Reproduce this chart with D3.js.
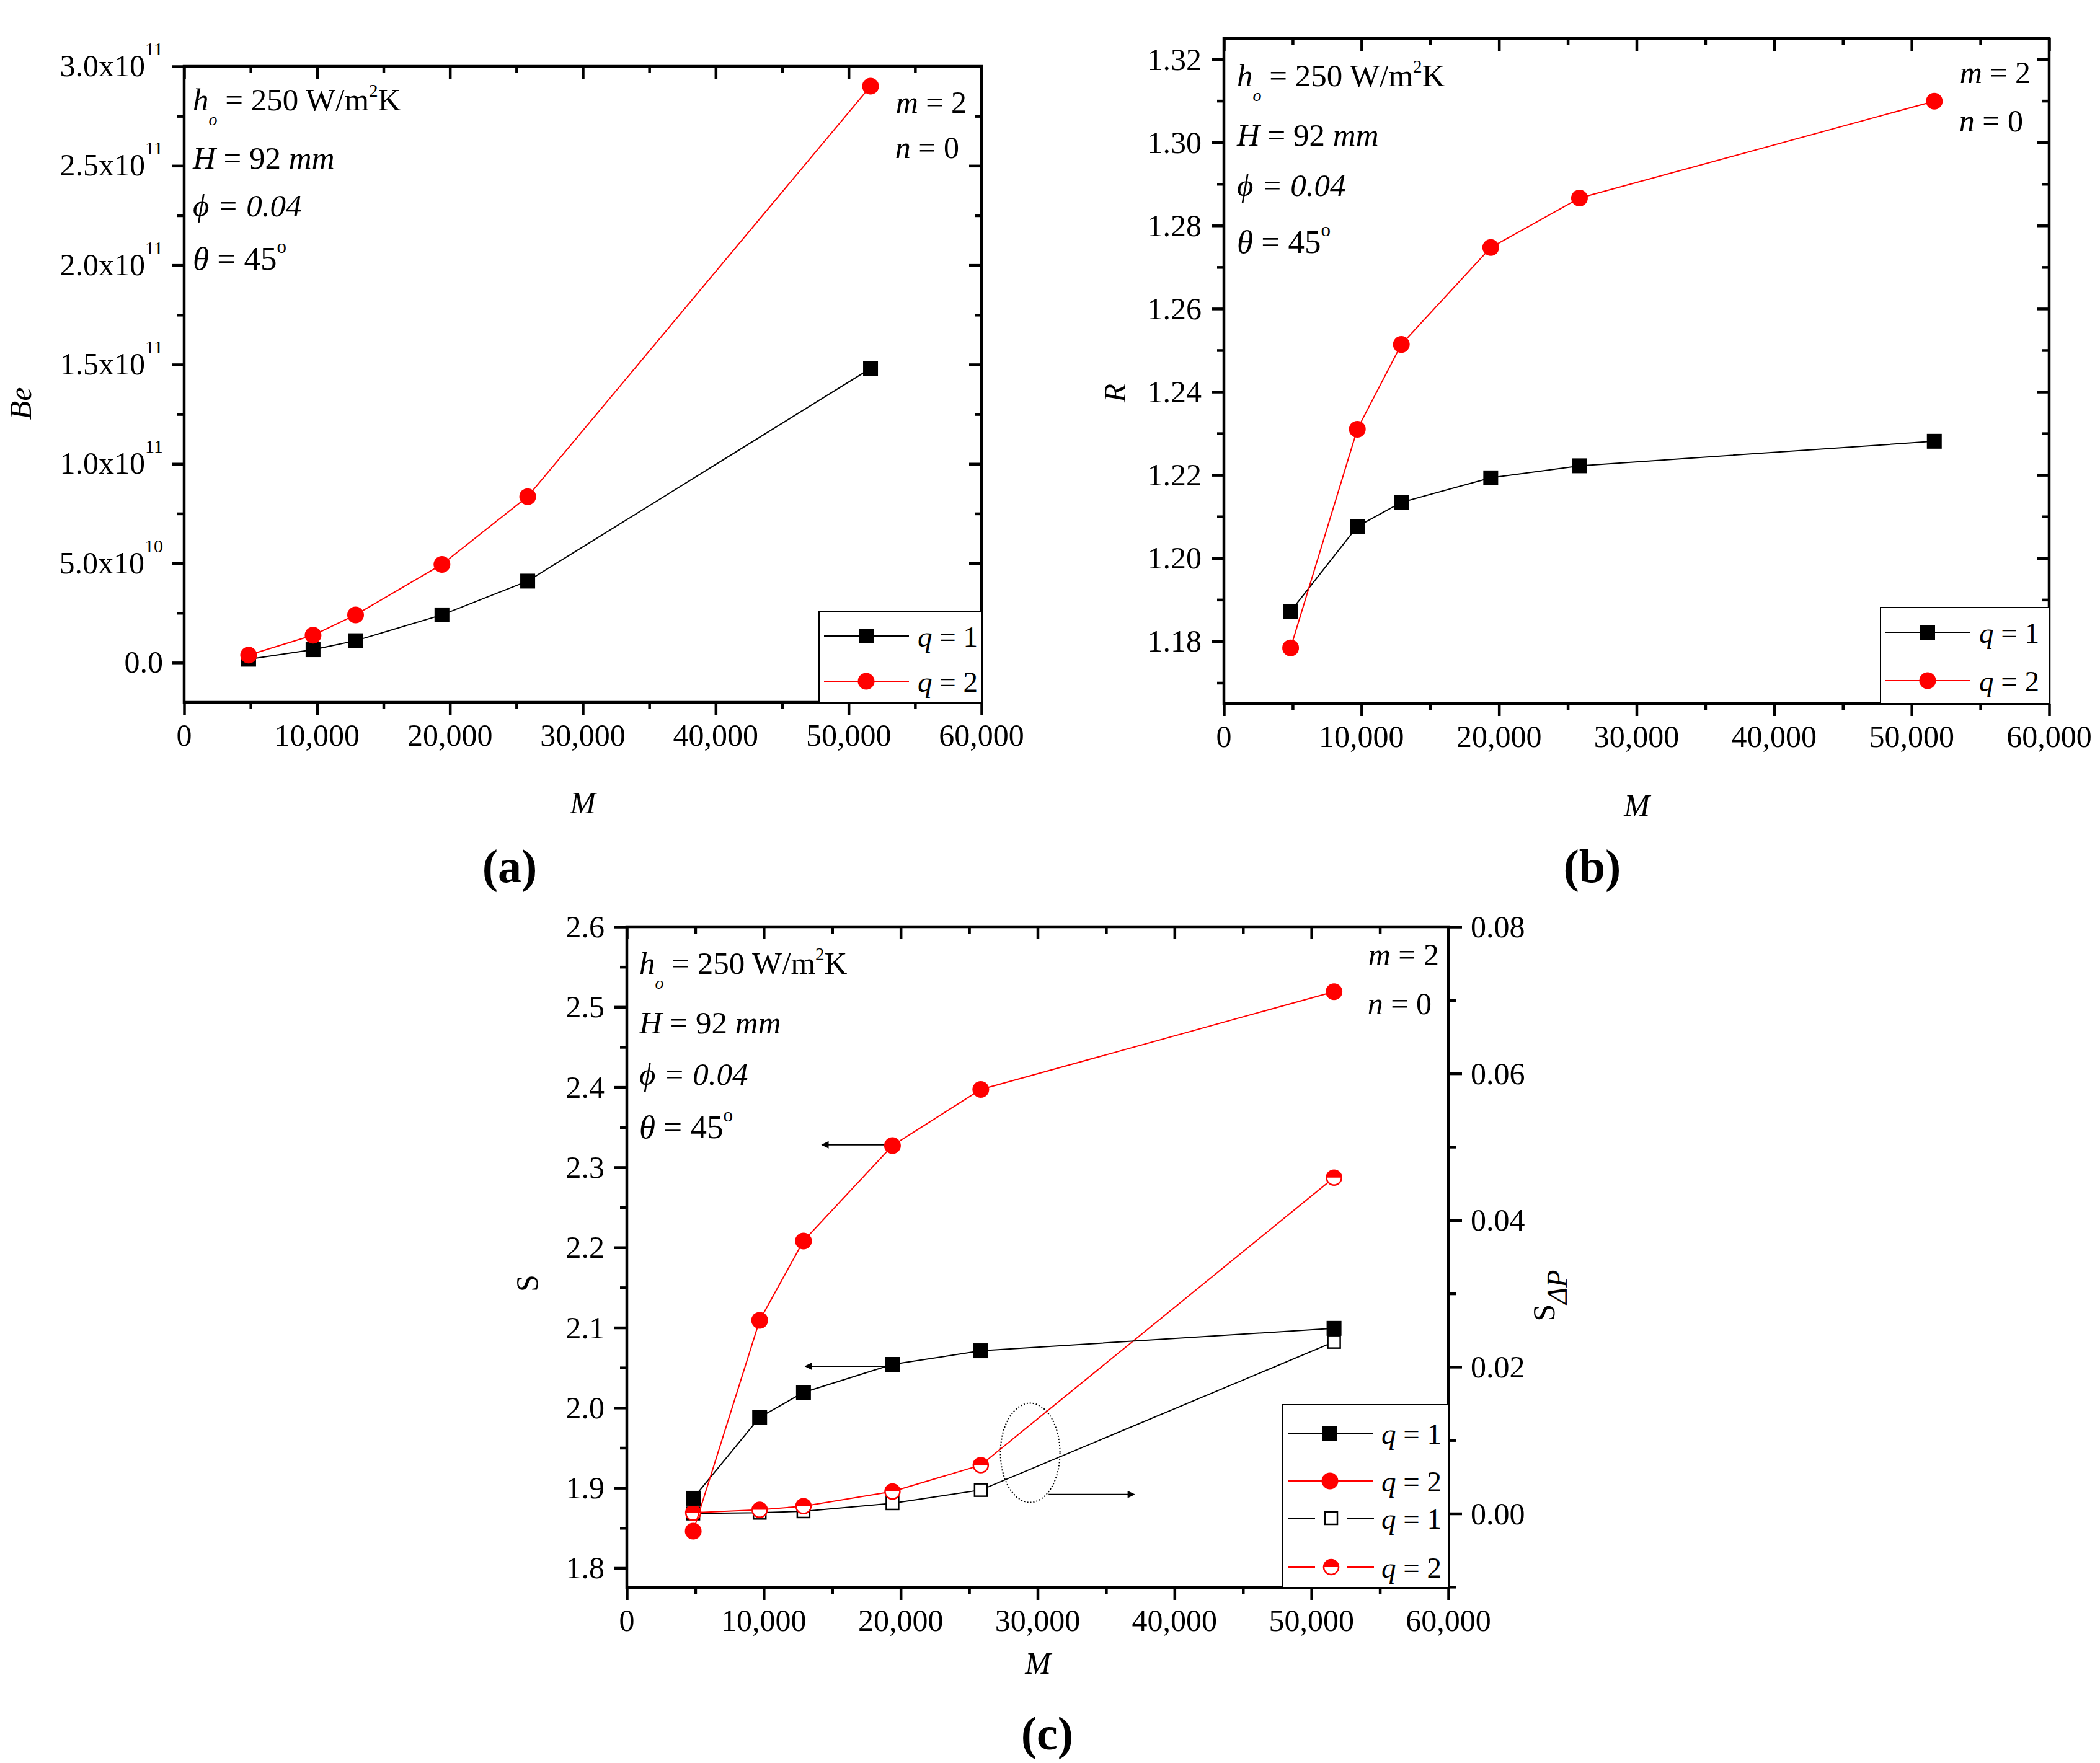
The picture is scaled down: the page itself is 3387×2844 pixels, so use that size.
<!DOCTYPE html>
<html>
<head>
<meta charset="utf-8">
<script src="https://cdn.jsdelivr.net/npm/d3@7"></script>
<style>
  body { margin: 0; background: #fff; }
  text { font-family: "Liberation Serif", "Times New Roman", serif; fill: #000; }
</style>
</head>
<body>
<script>
/* global d3 */

// ---- data ----
const M = [4850, 9700, 12900, 19400, 25850, 51650]

const beQ1 = [1.7e9, 6.5e9, 1.1e10, 2.4e10, 4.1e10, 1.48e11]
const beQ2 = [3.8e9, 1.375e10, 2.4e10, 4.94e10, 8.35e10, 2.9e11]

const rQ1 = [1.1872, 1.2076, 1.2134, 1.2193, 1.2222, 1.2281]
const rQ2 = [1.1784, 1.2310, 1.2514, 1.2747, 1.2866, 1.3099]

const sQ1 = [1.887, 1.988, 2.019, 2.054, 2.071, 2.099]
const sQ2 = [1.846, 2.109, 2.208, 2.327, 2.397, 2.519]
const sdpQ1 = [0.0000, 0.0001, 0.0003, 0.0014, 0.0032, 0.0234]
const sdpQ2 = [0.0001, 0.0005, 0.0010, 0.0030, 0.0066, 0.0458]

const xTicks = [0, 10000, 20000, 30000, 40000, 50000, 60000]
const xMinor = [5000, 15000, 25000, 35000, 45000, 55000]
const xLabels = ['0', '10,000', '20,000', '30,000', '40,000', '50,000', '60,000']

const beTicks = [0, 5e10, 1e11, 1.5e11, 2e11, 2.5e11, 3e11]
const beMinor = [2.5e10, 7.5e10, 1.25e11, 1.75e11, 2.25e11, 2.75e11]
const beLabels = [['0.0', ''], ['5.0x10', '10'], ['1.0x10', '11'], ['1.5x10', '11'],
  ['2.0x10', '11'], ['2.5x10', '11'], ['3.0x10', '11']]

const rTicks = [1.18, 1.20, 1.22, 1.24, 1.26, 1.28, 1.30, 1.32]
const rMinor = [1.17, 1.19, 1.21, 1.23, 1.25, 1.27, 1.29, 1.31]
const rLabels = ['1.18', '1.20', '1.22', '1.24', '1.26', '1.28', '1.30', '1.32']

const sTicks = [1.8, 1.9, 2.0, 2.1, 2.2, 2.3, 2.4, 2.5, 2.6]
const sMinor = [1.85, 1.95, 2.05, 2.15, 2.25, 2.35, 2.45, 2.55]
const sLabels = ['1.8', '1.9', '2.0', '2.1', '2.2', '2.3', '2.4', '2.5', '2.6']

const dpTicks = [0, 0.02, 0.04, 0.06, 0.08]
const dpMinor = [-0.01, 0.01, 0.03, 0.05, 0.07]
const dpLabels = ['0.00', '0.02', '0.04', '0.06', '0.08']

// arrows in panel (c): [fromM, toM, value, axis]
const arrows = [[19280, 14250, 2.328, 'left'], [19280, 13030, 2.0517, 'left'], [30800, 37060, 0.0026, 'right']]
const ellipseAt = [29460, 0.00828]

// ---- page ----
const svg = d3.select('body').append('svg')
  .attr('width', 3387)
  .attr('height', 2844)

const defs = svg.append('defs')
defs.append('marker')
  .attr('id', 'head')
  .attr('viewBox', '0 0 10 10')
  .attr('refX', 9).attr('refY', 5)
  .attr('markerWidth', 26).attr('markerHeight', 12)
  .attr('markerUnits', 'userSpaceOnUse')
  .attr('orient', 'auto')
  .append('path').attr('d', 'M0,0 L10,5 L0,10 Z').attr('fill', '#000')

// text built from pieces: {t, i: italic, fs, dy}
function rich (g, x, y, parts, size, anchor) {
  const t = g.append('text')
    .attr('x', x).attr('y', y)
    .attr('font-size', size)
    .attr('text-anchor', anchor || 'start')
  let off = 0
  parts.forEach(p => {
    const want = p.dy || 0
    t.append('tspan')
      .attr('dy', want - off)
      .attr('font-size', p.fs || size)
      .attr('font-style', p.i ? 'italic' : 'normal')
      .text(p.t)
    off = want
  })
  return t
}

function frame (box, yDomain, yTicks, yMinor, mirror) {
  const g = svg.append('g')
  const x = d3.scaleLinear().domain([0, 60000]).range([box.l, box.r])
  const y = d3.scaleLinear().domain(yDomain).range([box.b, box.t])

  const put = (axis, tx, ty) => g.append('g')
    .attr('transform', `translate(${tx},${ty})`)
    .call(axis)
    .call(s => s.select('.domain').remove())
    .call(s => s.selectAll('line').attr('stroke-width', 4.5))

  put(d3.axisBottom(x).tickValues(xTicks).tickSize(20).tickFormat(''), 0, box.b)
  put(d3.axisBottom(x).tickValues(xMinor).tickSize(11).tickFormat(''), 0, box.b)
  put(d3.axisTop(x).tickValues(xTicks).tickSize(-20).tickFormat(''), 0, box.t)
  put(d3.axisTop(x).tickValues(xMinor).tickSize(-11).tickFormat(''), 0, box.t)
  put(d3.axisLeft(y).tickValues(yTicks).tickSize(20).tickFormat(''), box.l, 0)
  put(d3.axisLeft(y).tickValues(yMinor).tickSize(11).tickFormat(''), box.l, 0)
  if (mirror) {
    put(d3.axisRight(y).tickValues(yTicks).tickSize(-20).tickFormat(''), box.r, 0)
    put(d3.axisRight(y).tickValues(yMinor).tickSize(-11).tickFormat(''), box.r, 0)
  }

  g.append('rect')
    .attr('x', box.l).attr('y', box.t)
    .attr('width', box.r - box.l).attr('height', box.b - box.t)
    .attr('fill', 'none').attr('stroke', '#000').attr('stroke-width', 4.5)

  g.selectAll('.xl').data(xTicks).enter().append('text')
    .attr('x', d => x(d)).attr('y', box.b + 70)
    .attr('text-anchor', 'middle').attr('font-size', 50)
    .text((d, i) => xLabels[i])

  return { g, x, y }
}

function series (p, xs, ys, yScale, color, shape) {
  const pts = xs.map((m, i) => [p.x(m), yScale(ys[i])])
  p.g.append('path')
    .attr('d', d3.line()(pts))
    .attr('fill', 'none').attr('stroke', color).attr('stroke-width', 2)
  pts.forEach(pt => marker(p.g, pt[0], pt[1], color, shape))
}

function marker (g, cx, cy, color, shape) {
  if (shape === 'square') {
    g.append('rect').attr('x', cx - 12).attr('y', cy - 12).attr('width', 24).attr('height', 24).attr('fill', color)
  } else if (shape === 'circle') {
    g.append('circle').attr('cx', cx).attr('cy', cy).attr('r', 13.5).attr('fill', color)
  } else if (shape === 'open') {
    g.append('rect').attr('x', cx - 10).attr('y', cy - 10).attr('width', 20).attr('height', 20)
      .attr('fill', '#fff').attr('stroke', color).attr('stroke-width', 2.5)
  } else {
    const r = 12
    g.append('circle').attr('cx', cx).attr('cy', cy).attr('r', r).attr('fill', '#fff').attr('stroke', color).attr('stroke-width', 2.5)
    g.append('path').attr('transform', `translate(${cx},${cy})`)
      .attr('d', `M${-r},0 A${r},${r} 0 0 1 ${r},0 Z`).attr('fill', color)
  }
}

function legend (g, box, rows) {
  g.append('rect')
    .attr('x', box.l).attr('y', box.t).attr('width', box.r - box.l).attr('height', box.b - box.t)
    .attr('fill', '#fff').attr('stroke', '#000').attr('stroke-width', 2)
  rows.forEach(r => {
    if (r.gap) {
      g.append('line').attr('x1', box.l + 9).attr('x2', box.l + 52).attr('y1', r.y).attr('y2', r.y).attr('stroke', r.color).attr('stroke-width', 2)
      g.append('line').attr('x1', box.l + 103).attr('x2', box.l + 147).attr('y1', r.y).attr('y2', r.y).attr('stroke', r.color).attr('stroke-width', 2)
      marker(g, box.l + 78, r.y, r.color, r.shape)
    } else {
      g.append('line').attr('x1', box.l + 8).attr('x2', box.l + 145).attr('y1', r.y).attr('y2', r.y).attr('stroke', r.color).attr('stroke-width', 2)
      marker(g, box.l + 76, r.y, r.color, r.shape)
    }
    rich(g, box.l + 159, r.y + 17, [{ t: 'q', i: true }, { t: ' = ' + r.q }], 47)
  })
}

function notes (g, l, ys, r, ys2) {
  rich(g, l, ys[0], [{ t: 'h', i: true }, { t: 'o', i: true, fs: 28, dy: 24 }, { t: ' = 250 W/m' },
    { t: '2', fs: 29, dy: -22 }, { t: 'K' }], 51)
  rich(g, l, ys[1], [{ t: 'H', i: true }, { t: ' = 92 ' }, { t: 'mm', i: true }], 51)
  rich(g, l, ys[2], [{ t: '\u03D5 = 0.04', i: true }], 51)
  rich(g, l, ys[3], [{ t: '\u03B8', i: true }, { t: ' = 45' }, { t: 'o', fs: 31, dy: -27 }], 53)
  rich(g, r, ys2[0], [{ t: 'm', i: true }, { t: ' = 2' }], 50, 'end')
  rich(g, r - 12, ys2[1], [{ t: 'n', i: true }, { t: ' = 0' }], 50, 'end')
}

function ylabel (g, x, y, parts) {
  const t = rich(g, 0, 0, parts, 50, 'middle')
  t.attr('transform', `translate(${x},${y}) rotate(-90)`)
}

// ---- (a) ----
const boxA = { l: 297, r: 1583, t: 107, b: 1133 }
const a = frame(boxA, [-2e10, 3e11], beTicks, beMinor, true)
beTicks.forEach((v, i) => {
  rich(a.g, boxA.l - 34, a.y(v) + 16, [{ t: beLabels[i][0] }, { t: beLabels[i][1], fs: 30, dy: -34 }], 50, 'end')
})
series(a, M, beQ1, a.y, '#000', 'square')
series(a, M, beQ2, a.y, '#f00', 'circle')
legend(a.g, { l: 1321, r: 1583, t: 986, b: 1133 }, [
  { y: 1026, color: '#000', shape: 'square', q: 1 },
  { y: 1099, color: '#f00', shape: 'circle', q: 2 }])
notes(a.g, 311, [178, 272, 349, 435], 1559, [182, 255])
ylabel(a.g, 50, 651, [{ t: 'Be', i: true }])
rich(a.g, 940, 1312, [{ t: 'M', i: true }], 50, 'middle')
a.g.append('text').attr('x', 822).attr('y', 1423).attr('text-anchor', 'middle')
  .attr('font-size', 76).attr('font-weight', 'bold').text('(a)')

// ---- (b) ----
const boxB = { l: 1974, r: 3305, t: 62, b: 1135 }
const b = frame(boxB, [1.165, 1.325], rTicks, rMinor, true)
rTicks.forEach((v, i) => {
  b.g.append('text').attr('x', boxB.l - 36).attr('y', b.y(v) + 17)
    .attr('text-anchor', 'end').attr('font-size', 50).text(rLabels[i])
})
series(b, M, rQ1, b.y, '#000', 'square')
series(b, M, rQ2, b.y, '#f00', 'circle')
legend(b.g, { l: 3033, r: 3305, t: 980, b: 1135 }, [
  { y: 1020, color: '#000', shape: 'square', q: 1 },
  { y: 1098, color: '#f00', shape: 'circle', q: 2 }])
notes(b.g, 1995, [139, 235, 316, 408], 3275, [134, 212])
ylabel(b.g, 1815, 634, [{ t: 'R', i: true }])
rich(b.g, 2640, 1316, [{ t: 'M', i: true }], 50, 'middle')
b.g.append('text').attr('x', 2568).attr('y', 1423).attr('text-anchor', 'middle')
  .attr('font-size', 76).attr('font-weight', 'bold').text('(b)')

// ---- (c) ----
const boxC = { l: 1011, r: 2336, t: 1495, b: 2561 }
const c = frame(boxC, [1.7756, 2.6], sTicks, sMinor, false)
const yR = d3.scaleLinear().domain([-0.0101, 0.08]).range([boxC.b, boxC.t])
c.g.append('g').attr('transform', `translate(${boxC.r},0)`)
  .call(d3.axisRight(yR).tickValues(dpTicks).tickSize(22).tickFormat(''))
  .call(s => s.select('.domain').remove())
  .call(s => s.selectAll('line').attr('stroke-width', 4.5))
c.g.append('g').attr('transform', `translate(${boxC.r},0)`)
  .call(d3.axisRight(yR).tickValues(dpMinor).tickSize(12).tickFormat(''))
  .call(s => s.select('.domain').remove())
  .call(s => s.selectAll('line').attr('stroke-width', 4.5))
sTicks.forEach((v, i) => {
  c.g.append('text').attr('x', boxC.l - 36).attr('y', c.y(v) + 17)
    .attr('text-anchor', 'end').attr('font-size', 50).text(sLabels[i])
})
dpTicks.forEach((v, i) => {
  c.g.append('text').attr('x', boxC.r + 36).attr('y', yR(v) + 17)
    .attr('text-anchor', 'start').attr('font-size', 50).text(dpLabels[i])
})

arrows.forEach(([m0, m1, v, side]) => {
  const ys = side === 'left' ? c.y : yR
  c.g.append('line')
    .attr('x1', c.x(m0)).attr('x2', c.x(m1)).attr('y1', ys(v)).attr('y2', ys(v))
    .attr('stroke', '#000').attr('stroke-width', 2).attr('marker-end', 'url(#head)')
})
c.g.append('ellipse')
  .attr('cx', c.x(ellipseAt[0])).attr('cy', yR(ellipseAt[1])).attr('rx', 48).attr('ry', 80)
  .attr('fill', 'none').attr('stroke', '#000').attr('stroke-width', 2).attr('stroke-dasharray', '2,3')

series(c, M, sdpQ1, yR, '#000', 'open')
series(c, M, sdpQ2, yR, '#f00', 'half')
series(c, M, sQ1, c.y, '#000', 'square')
series(c, M, sQ2, c.y, '#f00', 'circle')

legend(c.g, { l: 2069, r: 2336, t: 2266, b: 2561 }, [
  { y: 2312, color: '#000', shape: 'square', q: 1 },
  { y: 2389, color: '#f00', shape: 'circle', q: 2 },
  { y: 2449, color: '#000', shape: 'open', q: 1, gap: true },
  { y: 2528, color: '#f00', shape: 'half', q: 2, gap: true }])
notes(c.g, 1031, [1571, 1667, 1750, 1836], 2321, [1557, 1636])
ylabel(c.g, 867, 2070, [{ t: 'S' }])
ylabel(c.g, 2507, 2090, [{ t: 'S' }, { t: '\u0394P', i: true, fs: 46, dy: 20 }])
rich(c.g, 1674, 2700, [{ t: 'M', i: true }], 50, 'middle')
c.g.append('text').attr('x', 1689).attr('y', 2822).attr('text-anchor', 'middle')
  .attr('font-size', 76).attr('font-weight', 'bold').text('(c)')
</script>
</body>
</html>
